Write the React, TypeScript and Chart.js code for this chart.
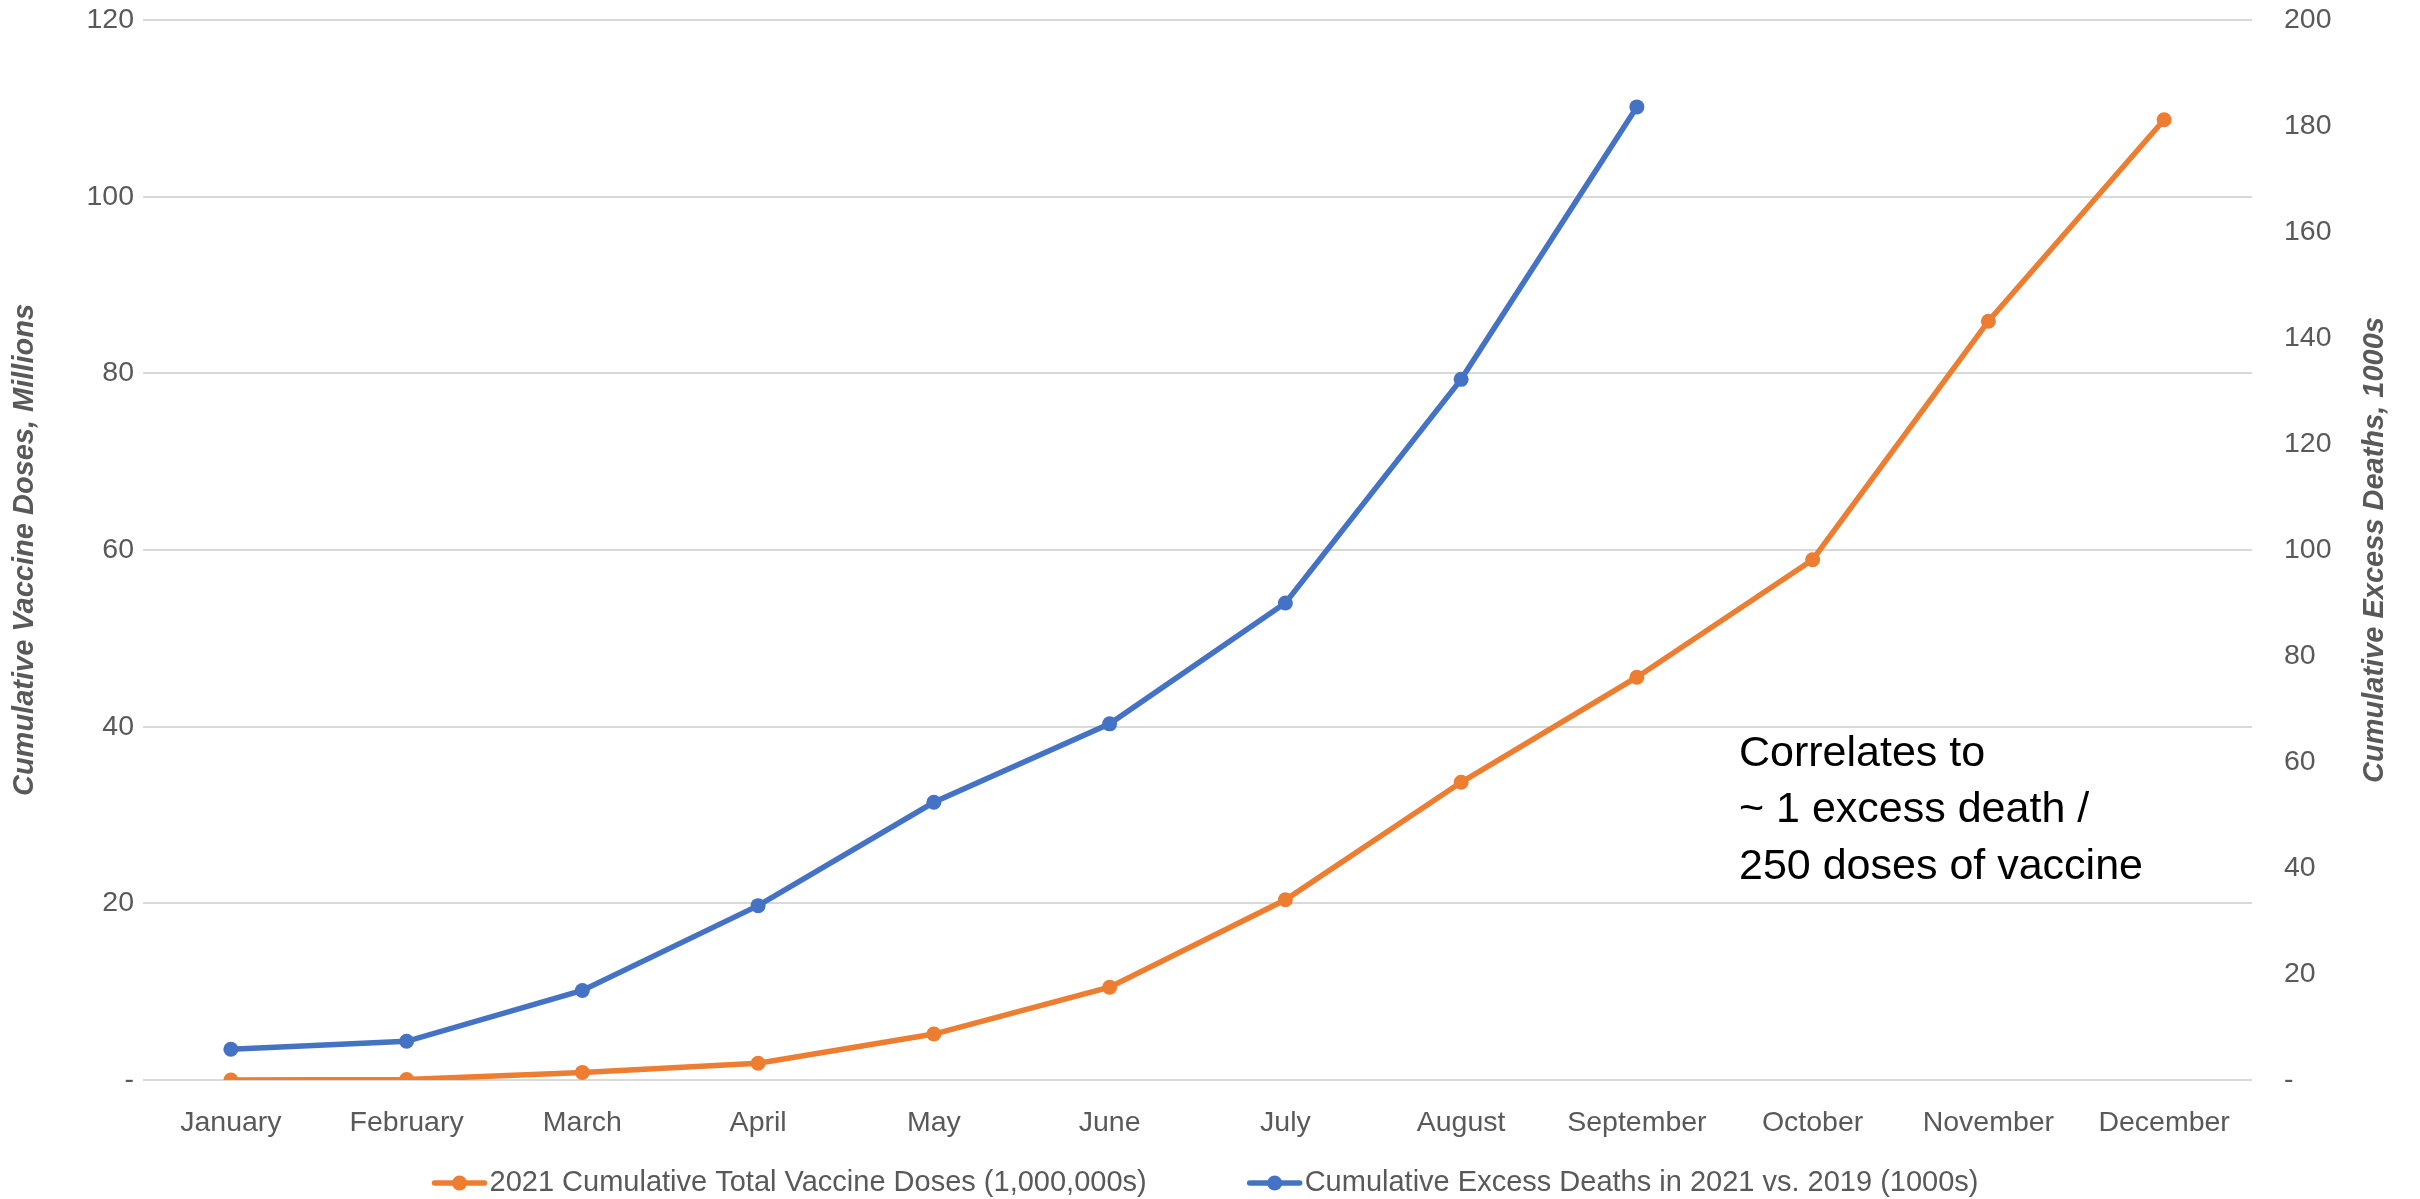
import { useEffect, useRef } from "react";
import { Chart, registerables } from "chart.js";

Chart.register(...registerables);

const months = [
  "January", "February", "March", "April", "May", "June",
  "July", "August", "September", "October", "November", "December",
];
const vaccineDoses = [0, 0.05, 0.86, 1.9, 5.2, 10.5, 20.4, 33.7, 45.6, 58.9, 85.9, 108.7];
const excessDeaths = [5.8, 7.3, 16.9, 32.9, 52.4, 67.2, 90, 132.2, 183.6, null, null, null];
const seriesLabels = [
  "2021 Cumulative Total Vaccine Doses (1,000,000s)",
  "Cumulative Excess Deaths in 2021 vs. 2019 (1000s)",
];
const leftAxisTitle = "Cumulative Vaccine Doses, Millions";
const rightAxisTitle = "Cumulative Excess Deaths, 1000s";
const noteLines = ["Correlates to", "~ 1 excess death /", "250 doses of vaccine"];

const ORANGE = "#ED7D31";
const BLUE = "#4472C4";
const TEXT = "#595959";
const GRID = "#D9D9D9";
const FONT = "'Liberation Sans', Arial, sans-serif";

const overlay = {
  id: "overlay",
  afterDraw(chart: any) {
    const ctx = chart.ctx;
    const area = chart.chartArea;
    const midY = (area.top + area.bottom) / 2;
    ctx.save();
    // axis titles
    ctx.fillStyle = TEXT;
    ctx.font = `italic bold 29px ${FONT}`;
    ctx.textAlign = "center";
    ctx.textBaseline = "middle";
    ctx.save();
    ctx.translate(25, midY);
    ctx.rotate(-Math.PI / 2);
    ctx.fillText(leftAxisTitle, 0, 0);
    ctx.restore();
    ctx.save();
    ctx.translate(2375, midY);
    ctx.rotate(-Math.PI / 2);
    ctx.fillText(rightAxisTitle, 0, 0);
    ctx.restore();

    // note
    ctx.fillStyle = "#000000";
    ctx.font = `43px ${FONT}`;
    ctx.textAlign = "left";
    noteLines.forEach((line, i) => {
      ctx.fillText(line, 1739, 754 + i * 56.5);
    });

    // legend
    ctx.font = `29px ${FONT}`;
    const colors = [ORANGE, BLUE];
    const markerW = 56;
    const gap = 2;
    const itemGap = 100;
    const widths = seriesLabels.map((t) => ctx.measureText(t).width);
    const total = widths.reduce((a, w) => a + markerW + gap + w, 0) + itemGap;
    let x = 1205 - total / 2;
    const ly = 1183;
    seriesLabels.forEach((t, i) => {
      ctx.strokeStyle = colors[i];
      ctx.lineWidth = 5.5;
      ctx.lineCap = "round";
      ctx.beginPath();
      ctx.moveTo(x + 3, ly);
      ctx.lineTo(x + markerW - 3, ly);
      ctx.stroke();
      ctx.fillStyle = colors[i];
      ctx.beginPath();
      ctx.arc(x + markerW / 2, ly, 7.5, 0, Math.PI * 2);
      ctx.fill();
      ctx.fillStyle = TEXT;
      ctx.textAlign = "left";
      ctx.fillText(t, x + markerW + gap, ly);
      x += markerW + gap + widths[i] + itemGap;
    });
    ctx.restore();
  },
};

export default function App() {
  const ref = useRef<HTMLCanvasElement>(null);
  useEffect(() => {
    if (!ref.current) return;
    const chart = new Chart(ref.current, {
      type: "line",
      data: {
        labels: months,
        datasets: [
          {
            label: seriesLabels[0],
            data: vaccineDoses,
            yAxisID: "y",
            borderColor: ORANGE,
            backgroundColor: ORANGE,
            pointBackgroundColor: ORANGE,
            borderWidth: 5.5,
            pointRadius: 7.5,
            pointBorderWidth: 0,
            tension: 0,
          },
          {
            label: seriesLabels[1],
            data: excessDeaths,
            yAxisID: "y1",
            borderColor: BLUE,
            backgroundColor: BLUE,
            pointBackgroundColor: BLUE,
            borderWidth: 5.5,
            pointRadius: 7.5,
            pointBorderWidth: 0,
            tension: 0,
          },
        ],
      },
      options: {
        responsive: false,
        animation: false,
        layout: { padding: { top: 20, left: 0, right: 0, bottom: 0 } },
        plugins: { legend: { display: false }, tooltip: { enabled: false } },
        scales: {
          x: {
            offset: true,
            grid: { display: false },
            border: { display: false },
            ticks: {
              color: TEXT,
              font: { family: FONT, size: 28.5 },
              padding: 18,
              autoSkip: false,
              maxRotation: 0,
            },
            afterFit: (s: any) => { s.height = 119; },
          },
          y: {
            position: "left",
            min: 0,
            max: 120,
            ticks: {
              stepSize: 20,
              color: TEXT,
              font: { family: FONT, size: 28.5 },
              padding: 9,
              callback: (v: any) => (v === 0 ? "-" : v),
            },
            grid: { color: GRID, lineWidth: 2, drawTicks: false },
            border: { display: false },
            afterFit: (s: any) => { s.width = 143; s.paddingTop = 0; s.paddingBottom = 0; },
          },
          y1: {
            position: "right",
            min: 0,
            max: 200,
            ticks: {
              stepSize: 20,
              color: TEXT,
              font: { family: FONT, size: 28.5 },
              padding: 32,
              callback: (v: any) => (v === 0 ? "-" : v),
            },
            grid: { display: false, drawTicks: false },
            border: { display: false },
            afterFit: (s: any) => { s.width = 168; s.paddingTop = 0; s.paddingBottom = 0; },
          },
        },
      },
      plugins: [overlay],
    });
    return () => chart.destroy();
  }, []);
  return (
    <div style={{ position: "absolute", left: 0, top: 0, width: 2420, height: 1199, background: "#fff" }}>
      <canvas ref={ref} width={2420} height={1199} />
    </div>
  );
}
